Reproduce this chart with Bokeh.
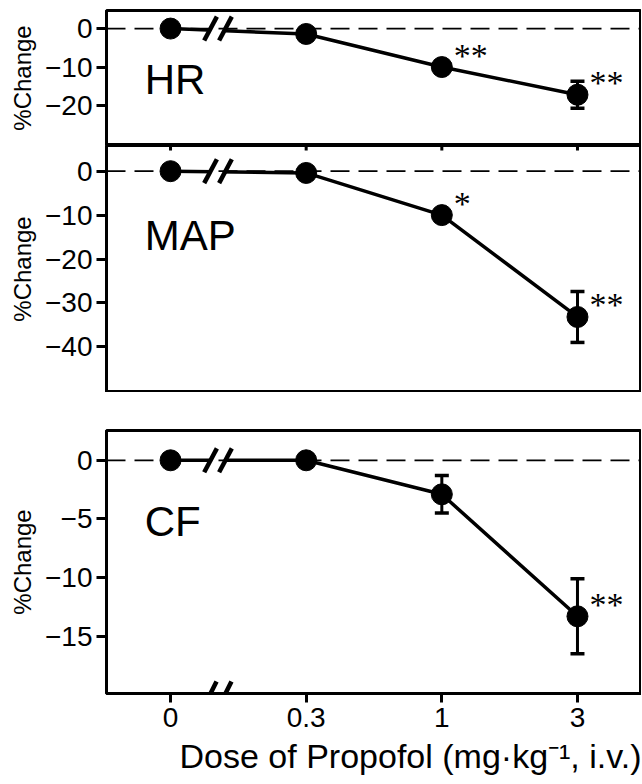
import math
from bokeh.plotting import figure
from bokeh.layouts import column
from bokeh.models import Range1d, FixedTicker, Arrow, Label, Span, Title
from bokeh.core.properties import value
from bokeh.embed import file_html
from bokeh.resources import INLINE

# ---------------- data ----------------
doses = ["0", "0.3", "1", "3"]

hr_mean = [0.0, -1.4, -10.0, -17.2]
hr_err = [0.0, 1.0, 1.2, 3.5]
hr_sig = ["", "", "**", "**"]

map_mean = [0.0, -0.4, -10.0, -33.2]
map_err = [0.0, 0.8, 1.2, 5.8]
map_sig = ["", "", "*", "**"]

cf_mean = [0.0, 0.0, -2.9, -13.3]
cf_err = [0.0, 0.3, 1.6, 3.2]
cf_sig = ["", "", "", "**"]

hr_ticks = [0, -10, -20]
map_ticks = [0, -10, -20, -30, -40]
cf_ticks = [0, -5, -10, -15]

xlabel = "Dose of Propofol (mg\u00b7kg\u207b\u00b9, i.v.)"
ylabel = "%Change"

# ---------------- styling ----------------
FONT = "Liberation Sans"
SERIF = "Liberation Serif"
X_RANGE = (-0.472, 3.472)
FRAME_W = 535
BORDER_L = 106
BREAK_X = (0.295, 0.405)


def minus(v):
    return ("\u2212" + str(abs(v))) if v < 0 else str(v)


def panel(name, mean, err, sig, ticks, yr, top, frame_h, bottom, name_y, last=False, top_ticks=False):
    h = top + frame_h + bottom
    p = figure(width=BORDER_L + FRAME_W, height=h,
               x_range=Range1d(*X_RANGE), y_range=Range1d(*yr),
               output_backend="svg", toolbar_location=None,
               x_axis_location=("below" if last else None),
               min_border_left=BORDER_L, min_border_right=0,
               min_border_top=top, min_border_bottom=bottom)
    p.xgrid.visible = False
    p.ygrid.visible = False
    p.outline_line_color = "black"
    p.outline_line_width = 3
    p.background_fill_color = "white"
    p.border_fill_color = "white"

    pos = list(range(len(doses)))

    # y axis
    ya = p.yaxis[0]
    ya.ticker = FixedTicker(ticks=ticks)
    ya.major_label_overrides = {t: minus(t) for t in ticks}
    ya.major_tick_out = 10
    ya.major_tick_in = 0
    ya.minor_tick_out = 0
    ya.minor_tick_in = 0
    ya.axis_line_width = 3
    ya.axis_line_color = "black"
    ya.major_tick_line_width = 3
    ya.major_tick_line_color = "black"
    ya.major_label_text_font = FONT
    ya.major_label_text_font_size = "28px"
    ya.major_label_text_color = "black"
    ya.major_label_standoff = 4
    ya.axis_label = ylabel
    ya.axis_label_text_font = FONT
    ya.axis_label_text_font_size = "24px"
    ya.axis_label_text_font_style = "normal"
    ya.axis_label_text_color = "black"
    ya.axis_label_standoff = 6

    if last:
        xa = p.xaxis[0]
        xa.ticker = FixedTicker(ticks=pos)
        xa.major_label_overrides = {i: d for i, d in enumerate(doses)}
        xa.major_tick_out = 9
        xa.major_tick_in = 0
        xa.minor_tick_out = 0
        xa.minor_tick_in = 0
        xa.axis_line_width = 3
        xa.axis_line_color = "black"
        xa.major_tick_line_width = 3
        xa.major_tick_line_color = "black"
        xa.major_label_text_font = FONT
        xa.major_label_text_font_size = "28px"
        xa.major_label_text_color = "black"
        xa.major_label_standoff = 5
        p.add_layout(Title(text=xlabel, align="right", text_font=FONT,
                           text_font_size="34px", text_font_style="normal",
                           text_color="black", standoff=11), "below")

    # zero reference
    p.add_layout(Span(location=0, dimension="width", line_color="black",
                      line_width=1.8, line_dash="19 9"))

    # error bars
    lo = [m - e for m, e in zip(mean, err)]
    hi = [m + e for m, e in zip(mean, err)]
    p.segment(x0=pos, y0=lo, x1=pos, y1=hi, line_color="black", line_width=3)
    p.scatter(x=pos + pos, y=lo + hi, marker="dash", size=14,
              line_color="black", line_width=3.5)

    # connecting line
    p.line(pos, mean, line_color="black", line_width=3.5)

    # axis break on the line (white gap + two slashes)
    p.rect(x=[sum(BREAK_X) / 2], y=[0], width=BREAK_X[1] - BREAK_X[0],
           height=9, height_units="screen", fill_color="white", line_color=None)
    p.scatter(x=list(BREAK_X), y=[0, 0], marker="dash", size=27,
              angle=math.radians(62), line_color="black", line_width=4.5)

    # markers
    p.scatter(pos, mean, marker="circle", size=21, fill_color="black", line_color="black")

    # significance
    p.text(x=pos, y=mean, text=sig, x_offset=12, y_offset=-12,
           text_font=value(SERIF), text_font_size="34px",
           text_baseline="alphabetic", text_align="left", text_color="black")

    # panel name
    p.add_layout(Label(x=-0.19, y=name_y, text=name, text_font=FONT,
                       text_font_size="42px", text_baseline="alphabetic",
                       text_color="black"))

    if top_ticks:
        p.scatter(x=pos, y=[yr[1]] * len(pos), marker="dash", size=10,
                  angle=math.pi / 2, line_color="black", line_width=3)

    if last:
        # axis break on the bottom axis
        ux = (X_RANGE[1] - X_RANGE[0]) / FRAME_W
        uy = (yr[1] - yr[0]) / frame_h
        for bx in BREAK_X:
            p.add_layout(Arrow(end=None, start=None,
                               x_start=bx - 6 * ux, y_start=yr[0] - 12 * uy,
                               x_end=bx + 6 * ux, y_end=yr[0] + 12 * uy,
                               line_color="black", line_width=4.5))
    return p


p1 = panel("HR", hr_mean, hr_err, hr_sig, hr_ticks, (-30.4, 4.7),
           top=10, frame_h=135, bottom=0, name_y=-13.2)
p2 = panel("MAP", map_mean, map_err, map_sig, map_ticks, (-50.4, 5.85),
           top=0, frame_h=247, bottom=0, name_y=-14.6, top_ticks=True)
p3 = panel("CF", cf_mean, cf_err, cf_sig, cf_ticks, (-19.88, 2.54),
           top=38, frame_h=263, bottom=91, name_y=-5.25, last=True)

layout = column(p1, p2, p3, spacing=0)
open("out.html", "w").write(file_html(layout, INLINE))
